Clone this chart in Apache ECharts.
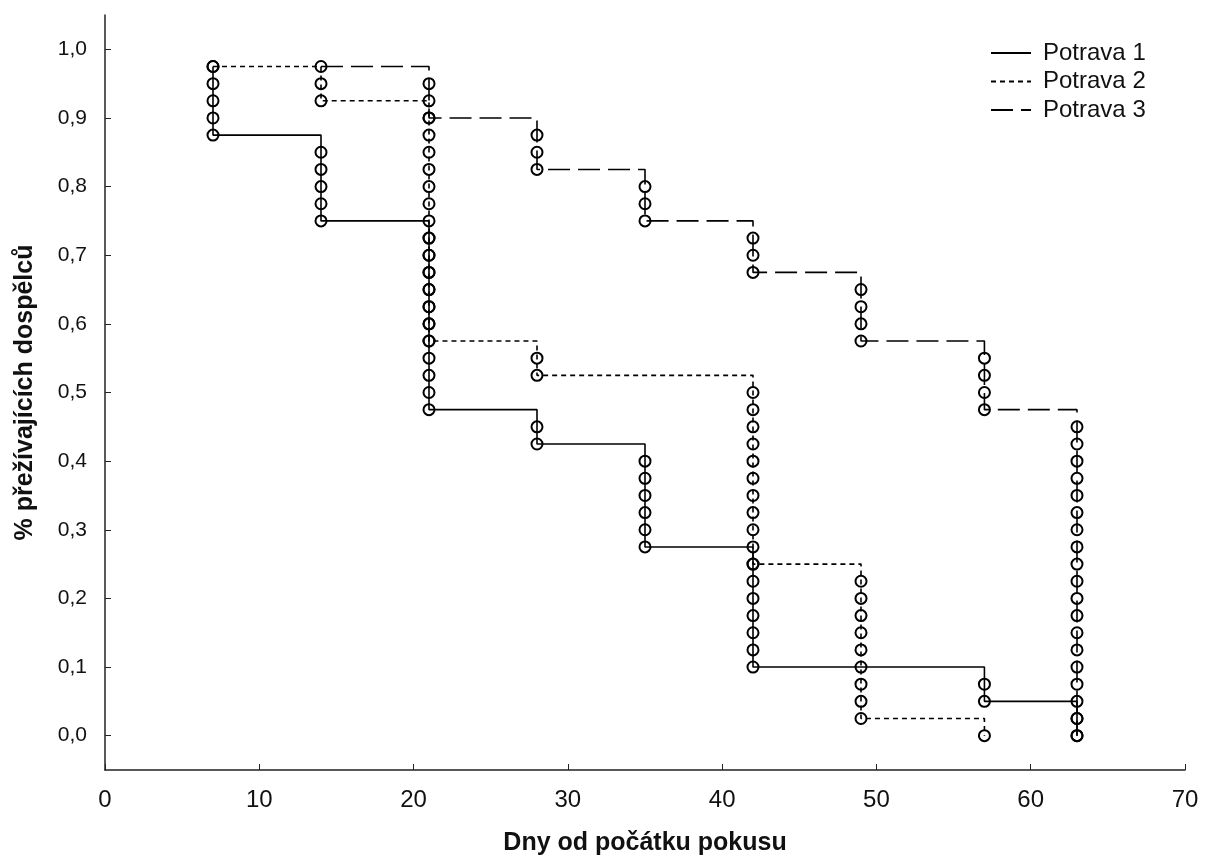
<!DOCTYPE html>
<html>
<head>
<meta charset="utf-8">
<script src="https://cdn.jsdelivr.net/npm/echarts@6/dist/echarts.min.js"></script>
<style>
  html, body { margin: 0; padding: 0; background: #fff; }
  #graph1 { width: 1205px; height: 858px; }
</style>
</head>
<body>
<div id="graph1"></div>
<script>
// dny, kdy došlo k úhynu (každý bod = jeden uhynulý jedinec)
var p1Days = [7, 7, 7, 7, 7,
    14, 14, 14, 14, 14,
    21, 21, 21, 21, 21, 21, 21, 21, 21, 21, 21,
    28, 28,
    35, 35, 35, 35, 35, 35,
    42, 42, 42, 42, 42, 42, 42,
    57, 57,
    63, 63];
var p1Surv = [0.975, 0.95, 0.925, 0.9, 0.875,
    0.85, 0.825, 0.8, 0.775, 0.75,
    0.725, 0.7, 0.675, 0.65, 0.625, 0.6, 0.575, 0.55, 0.525, 0.5, 0.475,
    0.45, 0.425,
    0.4, 0.375, 0.35, 0.325, 0.3, 0.275,
    0.25, 0.225, 0.2, 0.175, 0.15, 0.125, 0.1,
    0.075, 0.05,
    0.025, 0.0];

var p2Days = [7,
    14, 14,
    21, 21, 21, 21, 21, 21, 21, 21, 21, 21, 21, 21, 21, 21,
    28, 28,
    42, 42, 42, 42, 42, 42, 42, 42, 42, 42, 42,
    49, 49, 49, 49, 49, 49, 49, 49, 49,
    57];
var p2Surv = [0.975,
    0.95, 0.925,
    0.9, 0.875, 0.85, 0.825, 0.8, 0.775, 0.75, 0.725, 0.7, 0.675, 0.65, 0.625, 0.6, 0.575,
    0.55, 0.525,
    0.5, 0.475, 0.45, 0.425, 0.4, 0.375, 0.35, 0.325, 0.3, 0.275, 0.25,
    0.225, 0.2, 0.175, 0.15, 0.125, 0.1, 0.075, 0.05, 0.025,
    0.0];

var p3Days = [14,
    21, 21, 21,
    28, 28, 28,
    35, 35, 35,
    42, 42, 42,
    49, 49, 49, 49,
    57, 57, 57, 57,
    63, 63, 63, 63, 63, 63, 63, 63, 63, 63, 63, 63, 63, 63, 63, 63, 63, 63, 63];
var p3Surv = [0.975,
    0.95, 0.925, 0.9,
    0.875, 0.85, 0.825,
    0.8, 0.775, 0.75,
    0.725, 0.7, 0.675,
    0.65, 0.625, 0.6, 0.575,
    0.55, 0.525, 0.5, 0.475,
    0.45, 0.425, 0.4, 0.375, 0.35, 0.325, 0.3, 0.275, 0.25, 0.225, 0.2, 0.175, 0.15, 0.125, 0.1, 0.075, 0.05, 0.025, 0.0];

var seriesNames = ['Potrava 1', 'Potrava 2', 'Potrava 3'];
var yTicks = [0, 0.1, 0.2, 0.3, 0.4, 0.5, 0.6, 0.7, 0.8, 0.9, 1.0];
var xTicks = [0, 10, 20, 30, 40, 50, 60, 70];

function pairs(days, surv) {
    var out = [];
    for (var i = 0; i < days.length; i++) {
        out.push([days[i], surv[i]]);
    }
    return out;
}

var lineStyles = [
    { color: '#000', width: 1.6, type: 'solid' },
    { color: '#000', width: 1.6, type: [5, 4] },
    { color: '#000', width: 1.6, type: [22, 8] }
];
var allData = [pairs(p1Days, p1Surv), pairs(p2Days, p2Surv), pairs(p3Days, p3Surv)];

var series = [];
for (var s = 0; s < 3; s++) {
    series.push({
        name: seriesNames[s],
        type: 'line',
        step: 'end',
        symbol: 'none',
        data: allData[s],
        lineStyle: lineStyles[s],
        itemStyle: { color: '#000' },
        z: 2
    });
    // kolečka (úhyny)
    series.push({
        name: seriesNames[s] + ' body',
        type: 'scatter',
        symbol: 'circle',
        symbolSize: 11,
        data: allData[s],
        itemStyle: { color: 'rgba(0,0,0,0)', borderColor: '#000', borderWidth: 2, opacity: 1 },
        z: 3
    });
}

var option = {
    animation: false,
    backgroundColor: '#fff',
    grid: { left: 105, right: 20, top: 15, bottom: 88, outerBoundsMode: 'none', containLabel: false },
    legend: {
        data: seriesNames,
        orient: 'vertical',
        left: 985,
        top: 36,
        itemWidth: 40,
        itemHeight: 14,
        itemGap: 4.5,
        itemStyle: { opacity: 0 },
        textStyle: { fontFamily: 'Liberation Sans, Arial', fontSize: 24, lineHeight: 24, color: '#111', padding: [0, 0, 0, 7] }
    },
    xAxis: {
        type: 'value',
        min: 0,
        max: 70,
        interval: 10,
        name: 'Dny od počátku pokusu',
        nameLocation: 'middle',
        nameGap: 61,
        nameTextStyle: { fontFamily: 'Liberation Sans, Arial', fontSize: 25, fontWeight: 'bold', color: '#111' },
        axisLine: { onZero: false, lineStyle: { color: '#222', width: 1.5 } },
        axisTick: { inside: true, length: 6, lineStyle: { color: '#222' } },
        axisLabel: {
            margin: 18,
            fontFamily: 'Liberation Sans, Arial',
            fontSize: 24,
            color: '#111',
            showMaxLabel: true,
            formatter: function (v) { return xTicks.indexOf(v) >= 0 ? String(v) : ''; }
        },
        splitLine: { show: false }
    },
    yAxis: {
        type: 'value',
        min: -0.05,
        max: 1.05,
        name: '% přežívajících dospělců',
        nameLocation: 'middle',
        nameRotate: 90,
        nameGap: 67,
        nameTextStyle: { fontFamily: 'Liberation Sans, Arial', fontSize: 25, fontWeight: 'bold', color: '#111' },
        axisLine: { show: true, onZero: false, lineStyle: { color: '#222', width: 1.5 } },
        axisTick: { show: true, inside: true, length: 6, customValues: yTicks, lineStyle: { color: '#222' } },
        axisLabel: {
            margin: 18,
            fontFamily: 'Liberation Sans, Arial',
            fontSize: 21,
            color: '#111',
            customValues: yTicks,
            formatter: function (v) { return v.toFixed(1).replace('.', ','); }
        },
        splitLine: { show: false }
    },
    series: series
};

var myChart = echarts.init(document.getElementById('graph1'));
myChart.setOption(option);
</script>
</body>
</html>
